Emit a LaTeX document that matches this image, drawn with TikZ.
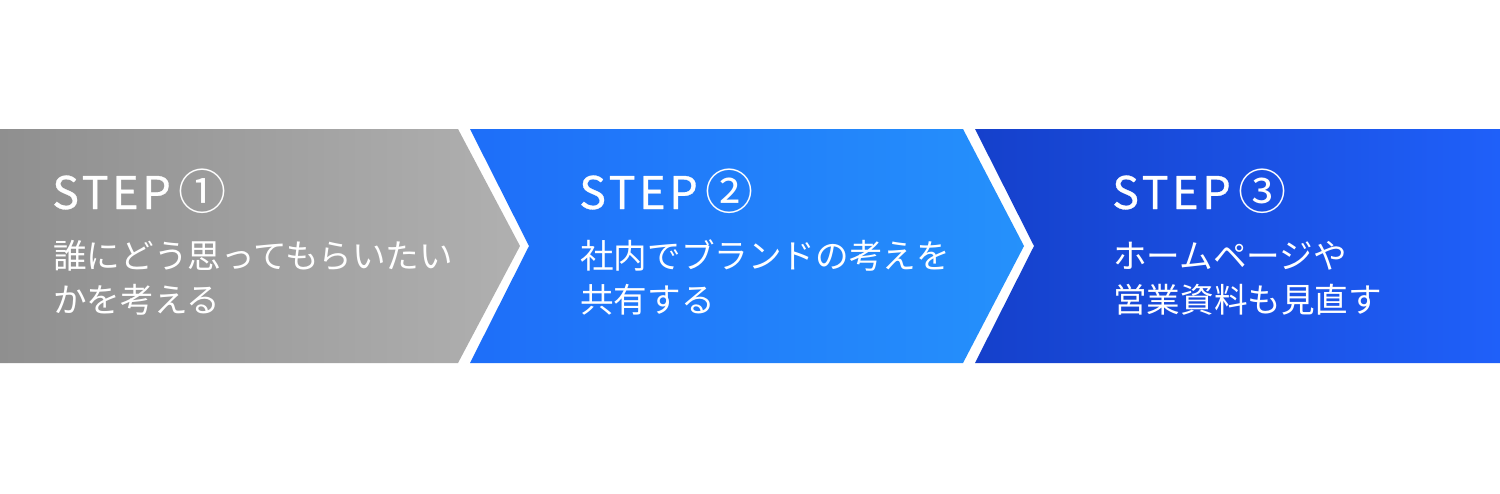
\documentclass[tikz,border=0pt]{standalone}
\usepackage{fontspec}
\newfontfamily\jp{Noto Sans CJK JP}
\newfontfamily\jpstep{Noto Sans CJK JP}[LetterSpace=8,FakeBold=0.6]
\definecolor{grayL}{HTML}{8F8F8F}
\definecolor{grayR}{HTML}{B0B0B0}
\definecolor{blueAL}{HTML}{1E6EF9}
\definecolor{blueAR}{HTML}{2591FB}
\definecolor{blueBL}{HTML}{1540CB}
\definecolor{blueBR}{HTML}{1F60F9}
\tikzset{
  steptitle/.style={anchor=base west, inner sep=0pt, text=white, font=\jpstep\fontsize{45}{45}\selectfont},
  steptext/.style={anchor=base west, inner sep=0pt, text=white, font=\jp\fontsize{33.6}{33.6}\selectfont},
}
\begin{document}
\begin{tikzpicture}[x=1pt,y=-1pt]
\useasboundingbox (0,0) rectangle (1500,493);
\fill[white] (0,0) rectangle (1500,493);
% chevrons
\shade[left color=grayL, right color=grayR]
  (0,129) -- (458,129) -- (520,246) -- (458,363) -- (0,363) -- cycle;
\shade[left color=blueAL, right color=blueAR]
  (470,129) -- (963,129) -- (1024,246) -- (963,363) -- (470,363) -- (529,246) -- cycle;
\shade[left color=blueBL, right color=blueBR]
  (975,129) -- (1500,129) -- (1500,363) -- (975,363) -- (1034,246) -- cycle;
% texts
\node[steptitle] (t1) at (52,209) {STEP\,{\jp\fontsize{48}{48}\selectfont ①}};
\node[steptext] (a1) at (53,268) {誰にどう思ってもらいたい};
\node[steptext] (b1) at (53,312) {かを考える};
\node[steptitle] (t2) at (579,209) {STEP\,{\jp\fontsize{48}{48}\selectfont ②}};
\node[steptext] (a2) at (580,268) {社内でブランドの考えを};
\node[steptext] (b2) at (580,312) {共有する};
\node[steptitle] (t3) at (1112,209) {STEP\,{\jp\fontsize{48}{48}\selectfont ③}};
\node[steptext] (a3) at (1113,268) {ホームページや};
\node[steptext] (b3) at (1113,312) {営業資料も見直す};
\end{tikzpicture}
\end{document}
